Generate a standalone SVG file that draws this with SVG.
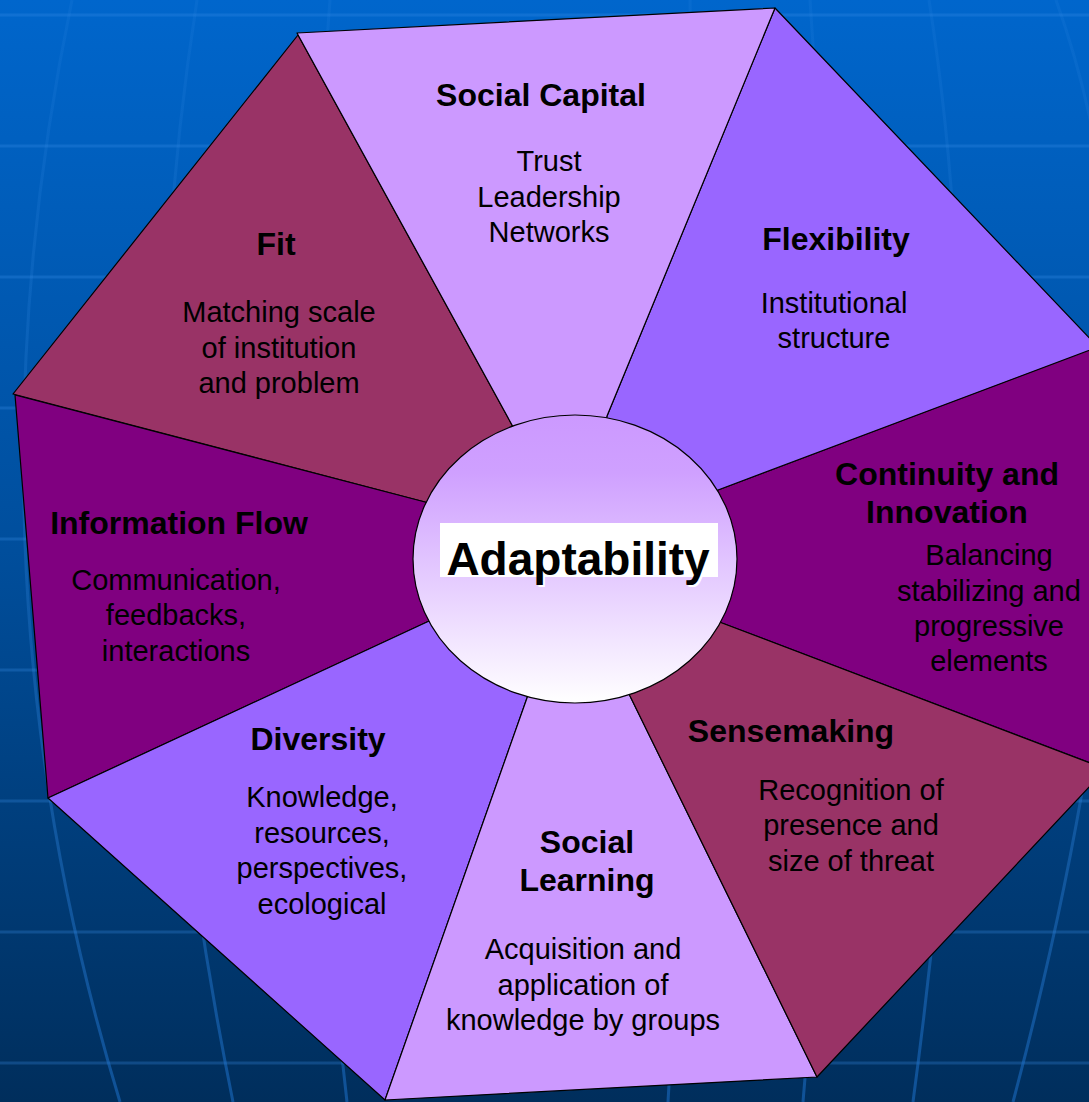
<svg xmlns="http://www.w3.org/2000/svg" width="1089" height="1102" viewBox="0 0 1089 1102">
  <defs>
    <linearGradient id="bg" x1="0" y1="0" x2="0" y2="1">
      <stop offset="0" stop-color="#0066CC"/>
      <stop offset="0.5" stop-color="#004E9C"/>
      <stop offset="1" stop-color="#002E5C"/>
    </linearGradient>
    <linearGradient id="gridfade" gradientUnits="userSpaceOnUse" x1="0" y1="0" x2="0" y2="1102">
      <stop offset="0" stop-color="#3A8FE8" stop-opacity="0.12"/>
      <stop offset="0.6" stop-color="#3A8FE8" stop-opacity="0.25"/>
      <stop offset="1" stop-color="#1C6FC8" stop-opacity="0.55"/>
    </linearGradient>
    <linearGradient id="hub" x1="0" y1="0" x2="0" y2="1">
      <stop offset="0" stop-color="#CC99FF"/>
      <stop offset="0.2" stop-color="#CFA0FF"/>
      <stop offset="1" stop-color="#FFFFFF"/>
    </linearGradient>
    <style>
      .grid { fill: none; stroke: #3A8FE8; stroke-opacity: 0.28; stroke-width: 3; }
      .meridian { fill: none; stroke: url(#gridfade); stroke-width: 3; }
      .wedge { stroke: #000000; stroke-width: 1.2; stroke-linejoin: round; }
      .t { font-family: "Liberation Sans", Arial, sans-serif; fill: #000000; text-anchor: middle; }
      .h { font-size: 32px; font-weight: bold; }
      .b { font-size: 29px; }
      .c1 { fill: #993366; }
      .c2 { fill: #CC99FF; }
      .c3 { fill: #9966FF; }
      .c4 { fill: #800080; }
    </style>
  </defs>

  <rect x="0" y="0" width="1089" height="1102" fill="url(#bg)"/>
  <g id="background-grid">
    <path class="grid" d="M0,15 H1089 M0,146 H1089 M0,277 H1089 M0,408 H1089 M0,539 H1089 M0,670 H1089 M0,801 H1089 M0,932 H1089 M0,1063 H1089"/>
    <path class="meridian" d="M72,0 Q-45,560 120,1102"/>
    <path class="meridian" d="M197,0 Q115,520 233,1102"/>
    <path class="meridian" d="M330,0 Q285,560 347,1102"/>
    <path class="meridian" d="M690,0 Q700,560 668,1102"/>
    <path class="meridian" d="M810,0 Q850,560 803,1102"/>
    <path class="meridian" d="M929,0 Q1000,450 913,1102"/>
    <path class="meridian" d="M1056,0 Q1200,400 1013,1102"/>
  </g>

  <g id="connectors"/>

  <g id="fit">
    <polygon class="wedge c1" points="298,35 13,394 425,502 575,559 512,425"/>
    <text class="t h" x="276" y="255">Fit</text>
    <text class="t b" x="279" y="322">Matching scale</text>
    <text class="t b" x="279" y="358">of institution</text>
    <text class="t b" x="279" y="393">and problem</text>
  </g>

  <g id="information-flow">
    <polygon class="wedge c4" points="15,395 48,798 427,622 575,559 425,502"/>
    <text class="t h" x="179" y="534">Information Flow</text>
    <text class="t b" x="176" y="590">Communication,</text>
    <text class="t b" x="176" y="625">feedbacks,</text>
    <text class="t b" x="176" y="661">interactions</text>
  </g>

  <g id="diversity">
    <polygon class="wedge c3" points="48,798 385,1100 527,698 575,559 427,622"/>
    <text class="t h" x="318" y="750">Diversity</text>
    <text class="t b" x="322" y="807">Knowledge,</text>
    <text class="t b" x="322" y="843">resources,</text>
    <text class="t b" x="322" y="878">perspectives,</text>
    <text class="t b" x="322" y="914">ecological</text>
  </g>

  <g id="social-learning">
    <polygon class="wedge c2" points="385,1100 817,1077 630,696 575,559 527,698"/>
    <text class="t h" x="587" y="853">Social</text>
    <text class="t h" x="587" y="891">Learning</text>
    <text class="t b" x="583" y="959">Acquisition and</text>
    <text class="t b" x="583" y="995">application of</text>
    <text class="t b" x="583" y="1030">knowledge by groups</text>
  </g>

  <g id="continuity-and-innovation">
    <polygon class="wedge c4" points="1125,336 1125,776 722,623 575,559 718,490"/>
    <text class="t h" x="947" y="485">Continuity and</text>
    <text class="t h" x="947" y="523">Innovation</text>
    <text class="t b" x="989" y="565">Balancing</text>
    <text class="t b" x="989" y="601">stabilizing and</text>
    <text class="t b" x="989" y="636">progressive</text>
    <text class="t b" x="989" y="671">elements</text>
  </g>

  <g id="sensemaking">
    <polygon class="wedge c1" points="817,1077 1106,769 722,623 575,559 630,696"/>
    <text class="t h" x="791" y="742">Sensemaking</text>
    <text class="t b" x="851" y="800">Recognition of</text>
    <text class="t b" x="851" y="835">presence and</text>
    <text class="t b" x="851" y="871">size of threat</text>
  </g>

  <g id="flexibility">
    <polygon class="wedge c3" points="775,8 1098,347 718,490 575,559 607,416"/>
    <text class="t h" x="836" y="250">Flexibility</text>
    <text class="t b" x="834" y="313">Institutional</text>
    <text class="t b" x="834" y="348">structure</text>
  </g>

  <g id="social-capital">
    <polygon class="wedge c2" points="297,33 775,8 607,416 575,559 512,425"/>
    <text class="t h" x="541" y="106">Social Capital</text>
    <text class="t b" x="549" y="171">Trust</text>
    <text class="t b" x="549" y="207">Leadership</text>
    <text class="t b" x="549" y="242">Networks</text>
  </g>

  <g id="adaptability">
    <ellipse cx="575" cy="559" rx="162" ry="144" fill="url(#hub)" stroke="#000000" stroke-width="1.2"/>
    <rect x="440" y="523" width="278" height="54" fill="#FFFFFF"/>
    <text class="t" x="580" y="577" font-size="46" font-weight="bold" style="fill:#FFFFFF">Adaptability</text>
    <text class="t" x="578" y="575" font-size="46" font-weight="bold">Adaptability</text>
  </g>
</svg>
